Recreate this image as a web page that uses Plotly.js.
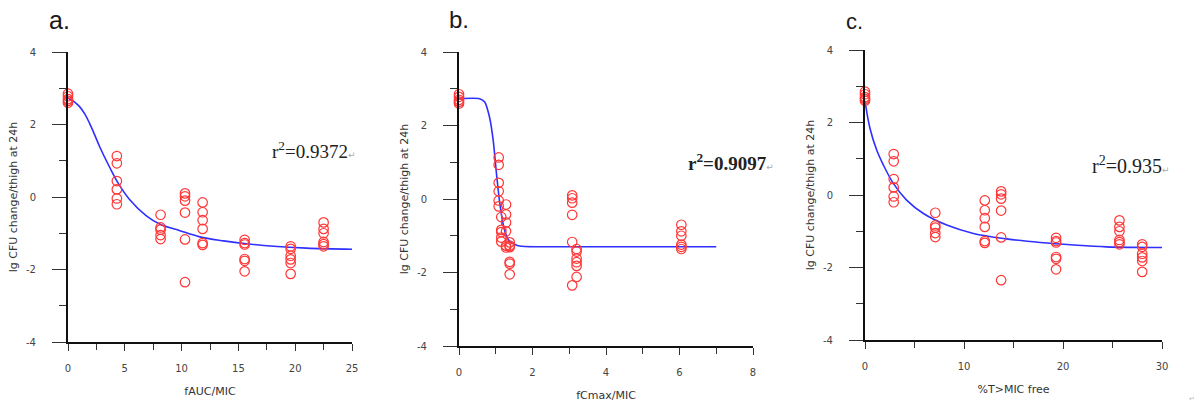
<!DOCTYPE html>
<html>
<head>
<meta charset="utf-8">
<script src="https://cdn.plot.ly/plotly-3.0.1.min.js"></script>
<style>html,body{margin:0;padding:0;background:#fff;}#chart{width:1196px;height:407px;}</style>
</head>
<body>
<div id="chart"></div>
<script>
// ---- Data ----
// y values of the eight dose groups (shared by all three panels)
const g0 = [2.85, 2.78, 2.7, 2.65, 2.6];
const g1 = [1.13, 0.93, 0.44, 0.21, -0.04, -0.2];
const g2 = [-0.49, -0.84, -0.9, -1.05, -1.16];
const g3 = [0.1, 0.02, -0.1, -0.43, -1.17, -2.35];
const g4 = [-0.15, -0.42, -0.64, -0.88, -1.27, -1.32];
const g5 = [-1.18, -1.27, -1.31, -1.71, -1.76, -2.05];
const g6 = [-1.36, -1.43, -1.62, -1.72, -1.82, -2.12];
const g7 = [-0.7, -0.88, -1.0, -1.24, -1.3, -1.36];
const groups = [g0, g1, g2, g3, g4, g5, g6, g7];

// x position of each group in each panel
const aGroupX = [0, 4.3, 8.15, 10.3, 11.85, 15.55, 19.6, 22.5];   // fAUC/MIC
const bGroupX = [0, 1.08, 1.15, 3.08, 1.28, 1.38, 3.2, 6.05];     // fCmax/MIC
const cGroupX = [0, 2.9, 7.1, 13.75, 12.1, 19.3, 28, 25.7];      // %T>MIC free

// fitted curves
const aCurveX = [0, 0.5, 1, 1.5, 1.9, 2.3, 2.8, 3.7, 4.4, 5.4, 6.9, 8.1, 9.85, 11.6, 13.7, 15.7, 18.1, 21, 25];
const aCurveY = [2.73, 2.64, 2.5, 2.28, 2.03, 1.75, 1.38, 0.8, 0.39, -0.06, -0.52, -0.75, -0.93, -1.1, -1.21, -1.29, -1.36, -1.41, -1.44];
const bCurveX = [0, 0.56, 0.7, 0.83, 0.93, 1.02, 1.11, 1.24, 1.38, 1.65, 2.2, 7.0];
const bCurveY = [2.73, 2.73, 2.64, 2.23, 1.6, 0.69, -0.12, -0.85, -1.16, -1.28, -1.3, -1.3];
const cCurveX = [0, 0.5, 1.18, 1.85, 2.86, 4.2, 5.9, 8.26, 10.95, 14.3, 17.7, 21.1, 24.4, 30];
const cCurveY = [2.6, 1.84, 1.24, 0.83, 0.32, -0.14, -0.51, -0.83, -1.06, -1.21, -1.31, -1.38, -1.43, -1.45];

// tick labels
const yTickVals = [-4, -2, 0, 2, 4];
const yTickText = ['-4', '-2', '0', '2', '4'];
const aTickVals = [0, 5, 10, 15, 20, 25];
const bTickVals = [0, 2, 4, 6, 8];
const cTickVals = [0, 10, 20, 30];

const panelLabels = ['a.', 'b.', 'c.'];
const r2Labels = ['0.9372', '0.9097', '0.935'];
const xTitles = ['fAUC/MIC', 'fCmax/MIC', '%T>MIC free'];
const yTitle = 'lg CFU change/thigh at 24h';

// ---- Build traces ----
function expand(groupX) {
  const xs = [], ys = [];
  groups.forEach((g, i) => g.forEach(v => { xs.push(groupX[i]); ys.push(v); }));
  return {xs, ys};
}
const W = 1196, H = 407;
const red = '#ff3636', blue = '#2f2fff';
const panelsX = [aGroupX, bGroupX, cGroupX];
const curvesX = [aCurveX, bCurveX, cCurveX];
const curvesY = [aCurveY, bCurveY, cCurveY];
const xTicks = [aTickVals, bTickVals, cTickVals];
const axSuffix = ['', '2', '3'];
const traces = [];
panelsX.forEach((gx, i) => {
  const d = expand(gx);
  traces.push({
    x: curvesX[i], y: curvesY[i], type: 'scatter', mode: 'lines',
    line: {color: blue, width: 1.6, shape: 'spline', smoothing: i === 1 ? 0.6 : 1},
    xaxis: 'x' + axSuffix[i], yaxis: 'y' + axSuffix[i], hoverinfo: 'skip', cliponaxis: false
  });
  traces.push({
    x: d.xs, y: d.ys, type: 'scatter', mode: 'markers',
    marker: {symbol: 'circle-open', size: 9.5, color: red, line: {color: red, width: 1.2}},
    xaxis: 'x' + axSuffix[i], yaxis: 'y' + axSuffix[i], cliponaxis: false
  });
});

// ---- Layout ----
const tickFont = {family: 'DejaVu Sans', size: 10, color: '#444'};
const titleFont = {family: 'DejaVu Sans', size: 11, color: '#333'};
// pixel boxes of each plot area [left, right, top, bottom]
const boxes = [[68, 352, 52, 342], [459, 753, 52, 346], [865, 1162, 50, 340]];
const xRanges = [[0, 25], [0, 8], [0, 30]];
const layout = {
  width: W, height: H, margin: {l: 0, r: 0, t: 0, b: 0},
  paper_bgcolor: '#fff', plot_bgcolor: 'rgba(0,0,0,0)', showlegend: false,
  annotations: []
};
boxes.forEach((b, i) => {
  const xd = [b[0] / W, b[1] / W], yd = [1 - b[3] / H, 1 - b[2] / H];
  const tv = xTicks[i];
  layout['xaxis' + axSuffix[i]] = {
    domain: xd, range: xRanges[i], anchor: 'y' + axSuffix[i], fixedrange: true,
    showline: true, linewidth: 2, linecolor: '#111', showgrid: false, zeroline: false,
    ticks: 'outside', ticklen: 7, tickwidth: 1, tickcolor: '#333',
    tickmode: 'array', tickvals: tv, ticktext: tv.map(String),
    minor: {tick0: 0, dtick: (tv[1] - tv[0]) / 2, ticks: 'outside', ticklen: 6, tickwidth: 1, tickcolor: '#333', showgrid: false},
    ticklabelstandoff: 9, tickfont: tickFont,
    title: {text: xTitles[i], font: titleFont, standoff: 14}
  };
  layout['yaxis' + axSuffix[i]] = {
    domain: yd, range: [-4, 4], anchor: 'x' + axSuffix[i], fixedrange: true,
    showline: true, linewidth: 2, linecolor: '#111', showgrid: false, zeroline: false,
    ticks: 'outside', ticklen: 14, tickwidth: 1, tickcolor: '#333',
    tickmode: 'array', tickvals: yTickVals, ticktext: yTickText,
    minor: {tick0: 0, dtick: 1, ticks: 'outside', ticklen: 7, tickwidth: 1, tickcolor: '#333', showgrid: false},
    ticklabelstandoff: 14, tickfont: tickFont,
    title: {text: yTitle, font: titleFont, standoff: 6}
  };
});
// panel letters
const letterPos = [[47, 20, 25], [447, 19, 24], [844, 21, 22]];
letterPos.forEach((p, i) => {
  layout.annotations.push({
    xref: 'paper', yref: 'paper', x: p[0] / W, y: 1 - p[1] / H, xanchor: 'left', yanchor: 'middle',
    text: panelLabels[i], showarrow: false,
    font: {family: 'Liberation Sans, Arial', size: p[2], color: '#1a1a1a'}
  });
});
// r^2 labels
const r2Pos = [[270, 150, 19, false], [686, 162, 19, true], [1090, 165, 20, false]];
r2Pos.forEach((p, i) => {
  const txt = 'r<sup>2</sup>=' + r2Labels[i];
  layout.annotations.push({
    xref: 'paper', yref: 'paper', x: p[0] / W, y: 1 - p[1] / H, xanchor: 'left', yanchor: 'middle',
    text: (p[3] ? '<b>' + txt + '</b>' : txt) + '<span style="font-family:DejaVu Sans;font-size:9px;color:#aaa">↵</span>',
    showarrow: false,
    font: {family: 'Liberation Serif, Times New Roman', size: p[2], color: '#222'}
  });
});
layout.annotations.push({
  xref: 'paper', yref: 'paper', x: 1192 / W, y: 1 - 399 / H, xanchor: 'center', yanchor: 'middle',
  text: '↵', showarrow: false, font: {family: 'DejaVu Sans', size: 7, color: '#bbb'}
});

Plotly.newPlot('chart', traces, layout, {staticPlot: true, displayModeBar: false});
</script>
</body>
</html>
